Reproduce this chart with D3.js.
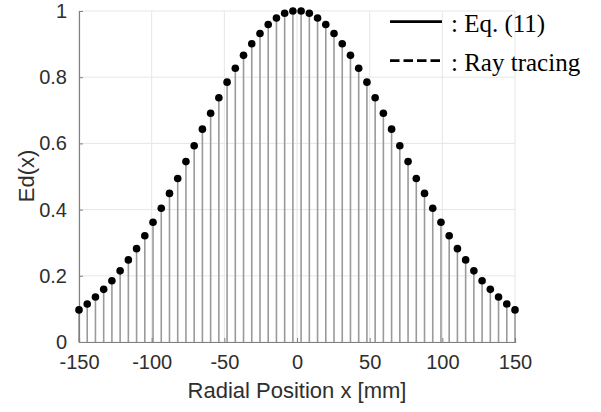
<!DOCTYPE html>
<html>
<head>
<meta charset="utf-8">
<script src="https://cdn.jsdelivr.net/npm/d3@7"></script>
<style>
  body { margin: 0; background: #fff; }
  svg { display: block; }
</style>
</head>
<body>
<script>
// Data
const positions = [
  -150, -144.34, -138.68, -133.02, -127.36, -121.70, -116.04, -110.38, -104.72, -99.06,
  -93.40, -87.74, -82.08, -76.42, -70.75, -65.09, -59.43, -53.77, -48.11, -42.45,
  -36.79, -31.13, -25.47, -19.81, -14.15, -8.49, -2.83,
  2.83, 8.49, 14.15, 19.81, 25.47, 31.13, 36.79, 42.45, 48.11, 53.77,
  59.43, 65.09, 70.75, 76.42, 82.08, 87.74, 93.40, 99.06, 104.72, 110.38,
  116.04, 121.70, 127.36, 133.02, 138.68, 144.34, 150
];
const edValues = [
  0.097, 0.115, 0.136, 0.159, 0.185, 0.215, 0.248, 0.282, 0.321, 0.362,
  0.404, 0.449, 0.494, 0.545, 0.593, 0.643, 0.691, 0.738, 0.785, 0.827,
  0.866, 0.901, 0.932, 0.959, 0.979, 0.993, 1.0,
  1.0, 0.993, 0.979, 0.959, 0.932, 0.901, 0.866, 0.827, 0.785, 0.738,
  0.691, 0.643, 0.593, 0.545, 0.494, 0.449, 0.404, 0.362, 0.321, 0.282,
  0.248, 0.215, 0.185, 0.159, 0.136, 0.115, 0.097
];
const xTicks = [-150, -100, -50, 0, 50, 100, 150];
const yTicks = [0, 0.2, 0.4, 0.6, 0.8, 1];
const xTickLabels = ["-150", "-100", "-50", "0", "50", "100", "150"];
const yTickLabels = ["0", "0.2", "0.4", "0.6", "0.8", "1"];
const legendLabels = [": Eq. (11)", ": Ray tracing"];
const xLabel = "Radial Position x [mm]";
const yLabel = "Ed(x)";

const W = 601, H = 412;
const svg = d3.select("body").append("svg").attr("width", W).attr("height", H);

const x = d3.scaleLinear().domain([-150, 150]).range([79, 515]);
const y = d3.scaleLinear().domain([0, 1]).range([342, 11]);

// grid
const grid = svg.append("g");
grid.selectAll(".gx").data(xTicks).join("line")
  .attr("x1", d => x(d)).attr("x2", d => x(d))
  .attr("y1", y(0)).attr("y2", y(1))
  .attr("stroke", "#e6e6e6").attr("stroke-width", 1);
grid.selectAll(".gy").data(yTicks).join("line")
  .attr("x1", x(-150)).attr("x2", x(150))
  .attr("y1", d => y(d)).attr("y2", d => y(d))
  .attr("stroke", "#e6e6e6").attr("stroke-width", 1);

// stems
const data = positions.map((p, i) => ({ p, v: edValues[i] }));
svg.append("g").selectAll("line").data(data).join("line")
  .attr("x1", d => x(d.p)).attr("x2", d => x(d.p))
  .attr("y1", y(0)).attr("y2", d => y(d.v))
  .attr("stroke", "#9a9a9a").attr("stroke-width", 1.6);

// axes
const xAxis = d3.axisBottom(x).tickValues(xTicks).tickSize(-4).tickPadding(13)
  .tickFormat((d, i) => xTickLabels[i]);
const yAxis = d3.axisLeft(y).tickValues(yTicks).tickSize(-4).tickPadding(12)
  .tickFormat((d, i) => yTickLabels[i]);

const gx = svg.append("g").attr("transform", `translate(0,${y(0)})`).call(xAxis);
const gy = svg.append("g").attr("transform", `translate(${x(-150)},0)`).call(yAxis);
[gx, gy].forEach(g => {
  g.select(".domain").attr("stroke", "#808080").attr("stroke-width", 1.2);
  g.selectAll(".tick line").attr("stroke", "#808080");
  g.selectAll(".tick text").attr("fill", "#2e2e2e").style("font-family", "'Liberation Sans', Arial, sans-serif").style("font-size", "20px");
});

// dots
svg.append("g").selectAll("circle").data(data).join("circle")
  .attr("cx", d => x(d.p)).attr("cy", d => y(d.v)).attr("r", 3.8)
  .attr("fill", "#000");

// axis labels
svg.append("text").attr("x", 297).attr("y", 398).attr("text-anchor", "middle")
  .style("font-family", "'Liberation Sans', Arial, sans-serif").style("font-size", "22px").attr("fill", "#2e2e2e")
  .text(xLabel);
svg.append("text").attr("transform", "translate(34,176) rotate(-90)").attr("text-anchor", "middle")
  .style("font-family", "'Liberation Sans', Arial, sans-serif").style("font-size", "22px").attr("fill", "#2e2e2e")
  .text(yLabel);

// legend
const lg = svg.append("g");
const legY = [21.7, 60.7];
lg.selectAll("line").data(legendLabels).join("line")
  .attr("x1", 390).attr("x2", 442)
  .attr("y1", (d, i) => legY[i]).attr("y2", (d, i) => legY[i])
  .attr("stroke", "#000").attr("stroke-width", 2.8)
  .attr("stroke-dasharray", (d, i) => i === 0 ? null : "9.5,4");
lg.selectAll("text").data(legendLabels).join("text")
  .attr("x", 451).attr("y", (d, i) => legY[i] + 10)
  .style("font-family", "'Liberation Serif', 'Times New Roman', serif").style("font-size", "25px")
  .attr("fill", "#000")
  .text(d => d);
</script>
</body>
</html>
